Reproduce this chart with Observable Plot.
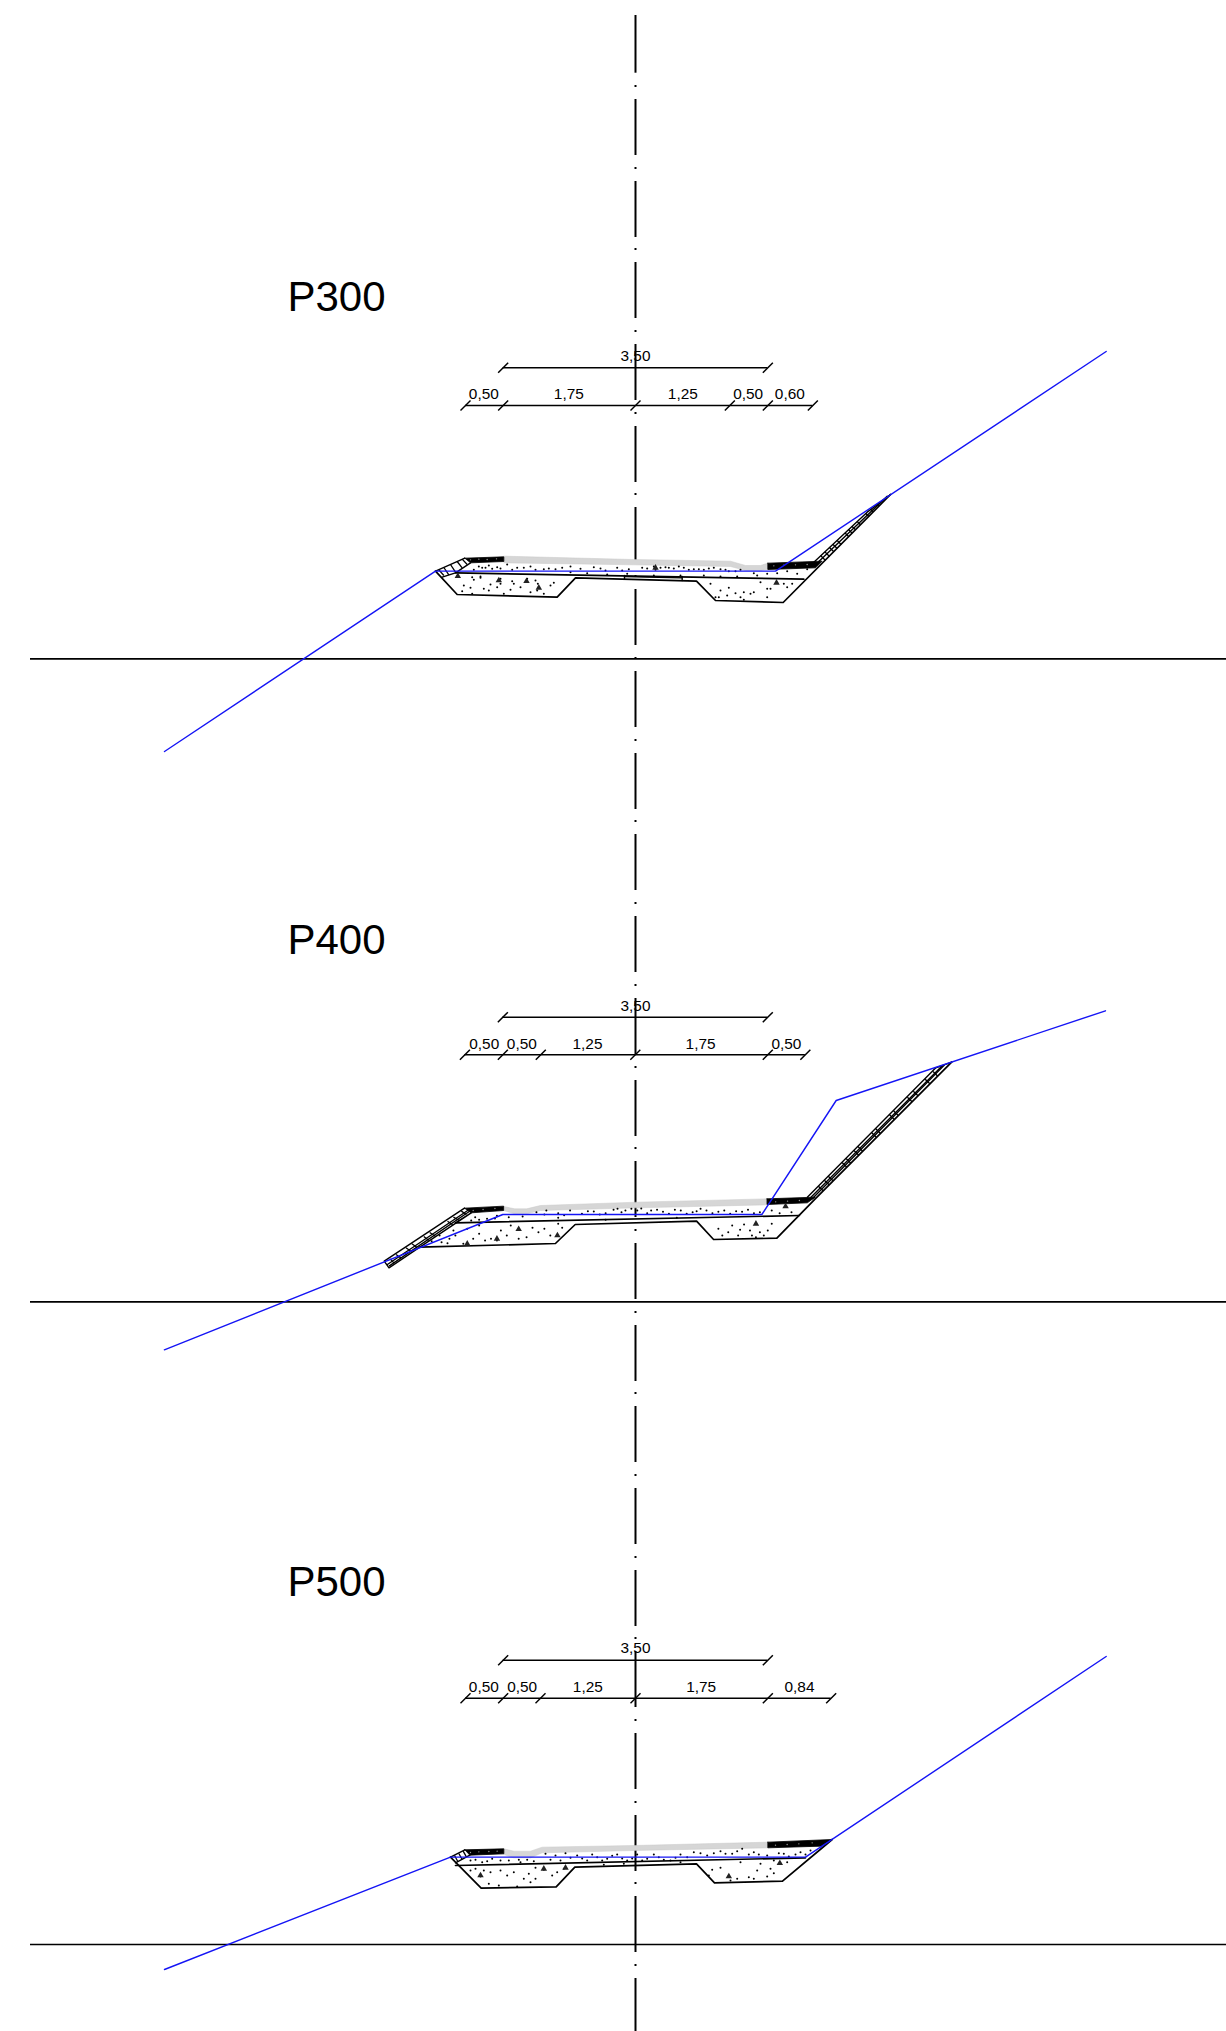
<!DOCTYPE html>
<html><head><meta charset="utf-8">
<script src="https://cdn.jsdelivr.net/npm/d3@7"></script>
<script src="https://cdn.jsdelivr.net/npm/@observablehq/plot@0.6"></script>
<style>html,body{margin:0;padding:0;background:#fff}svg{display:block}</style>
</head><body><div id="chart"></div>
<script>
// ---- centre line and reference levels (sheet units)
const axisDashStarts=[99,181,262,344,426,507,589,671,753,834,916,998,1080,1161,1243,1325,1406,1488,1570,1651,1733,1815,1896,1978];
const axisX=635;
const axisFirst=[15,72.7];
const axisDotYs=[86,168,249,331,413,494,576,658,740,821,903,985,1067,1148,1230,1312,1393,1475,1557,1638,1720,1802,1883,1965];
const datumYs=[658.3,1301.3,1944];
const titles=["P300","P400","P500"];
const titleYs=[310,953,1595];

// ---- section P300
const p300Origin=[420,330,3];
const p300Dim={top:112,mid:225,topSpan:[248,1042],midSpan:[135,1177]};
const p300MidTicks=[135,248,645,928,1042,1177];
const p300MidLabels=["0,50","1,75","1,25","0,50","0,60"];
const p300MidLabelX=[190,445,787,983,1108];
const p300LabelY=[90,205];
const p300Black=[[[133,683],[250,679],[250,693],[150,697]],[[1042,698],[1205,692],[1185,712],[1042,717]]];
const p300Gray=[[250,677],[640,687],[930,692],[975,705],[1020,705],[1042,698],[1042,716],[1020,720],[975,720],[930,708],[640,703],[250,697]];
const p300Lines=[
 [[105,727],[1150,746]],
 [[45,722],[110,792],[410,800],[465,742],[828,752],[885,810],[1088,816],[1410,492]],
 [[45,722],[133,683]],[[65,740],[105,727],[150,697]],
 [[1180,695],[1340,545],[1410,492]],[[1195,693],[1400,497]],
 [[612,735],[612,746]],[[785,738],[785,750]],[[612,738],[785,742]]];
const p300Ticks=[[1215,690,1201,676],[1227,678,1213,664],[1240,664,1226,650],[1250,654,1237,641],[1262,642,1250,630],[1285,619,1273,607],[1295,608,1284,597],[1305,598,1294,587],[1320,583,1310,573],[1345,558,1336,549],[1358,544,1350,536],[1375,527,1369,521],[70,711,85,733],[90,702,105,725],[110,693,125,712],[125,686,140,702],[55,718,70,735]];
const p300Blue=[[-768,1263],[45,722],[110,722],[1065,722],[2057,63]];
const p300Specks=[[175,708],[195,712],[230,710],[275,718],[205,705],[260,702],[310,712],[345,718],[385,714],[425,712],[450,708],[480,715],[520,710],[555,720],[590,712],[625,716],[665,712],[700,708],[705,718],[735,710],[760,714],[790,712],[820,716],[850,718],[880,712],[900,716],[925,722],[960,718],[1000,728],[1040,730],[1070,728],[1100,722],[1130,730],[1160,716],[160,718],[1010,735],[450,725],[500,728],[560,732],[620,730],[700,735],[780,735],[850,735],[900,738],[950,738],[110,737],[155,740],[180,742],[275,752],[345,750],[400,757],[130,765],[150,772],[190,775],[230,770],[270,778],[300,770],[390,765],[125,782],[250,790],[330,785],[370,790],[210,762],[280,760],[870,760],[900,780],[925,772],[885,800],[920,795],[960,800],[970,785],[1000,785],[1040,775],[1070,757],[1100,770],[1115,760],[1040,800],[970,808],
 [185,712],[215,715],[240,714],[290,712],[330,708],[370,716],[405,716],[540,714],[605,720],[680,714],[720,712],[745,712],[775,708],[805,718],[835,716],[865,714],[915,718],[945,722],[180,738],[240,745],[240,760],[320,745],[352,760],[160,748],[205,780],[155,790],[350,780],[895,800],[945,788],[990,790],[1020,755],[1090,760],[1050,775]];
const p300Stones=[[112,737],[235,750],[355,772],[318,752],[1068,757],[705,712]];
const p300White=[[150,688],[175,686],[200,687],[228,685],[1060,706],[1090,704],[1125,703],[1160,702]];

// ---- section P400 (crop reading: x/2.529, y/3)
const p400Origin=[360,990,2.529];
const p400Dim={top:80,mid:193,topSpan:[360,1030],midSpan:[264,1125]};
const p400MidTicks=[264,360,456,695,1030,1125];
const p400MidLabels=["0,50","0,50","1,25","1,75","0,50"];
const p400MidLabelX=[313,408,574,860,1077];
const p400LabelY=[60,175];
const p400Black=[[[263,653],[362,647],[362,660],[280,667]],[[1028,625],[1150,620],[1130,637],[1028,642]]];
const p400Gray=[[362,648],[390,655],[420,655],[455,645],[700,635],[1028,625],[1028,643],[700,652],[455,660],[420,670],[390,670],[362,660]];
const p400Lines=[
 [[240,697],[1110,675]],
 [[150,770],[493,759],[543,702],[850,692],[893,747],[1053,743],[1150,625],[1495,215]],
 [[1130,620],[1455,232],[1495,215]],[[1138,622],[1470,227]],[[1143,624],[1476,224]],
 [[240,697],[280,667],[150,770],[72,832],[60,812],[263,653]],[[68,822],[271,660]],[[73,826],[275,663]]];
const p400Ticks=[[1170,601,1158,587],[1185,583,1173,569],[1195,571,1183,557],[1230,530,1218,516],[1240,518,1228,504],[1260,494,1248,480],[1270,482,1258,468],[1305,441,1293,427],[1315,429,1303,415],[1350,387,1338,373],[1360,375,1348,361],[1395,334,1383,320],[1410,316,1398,302],[1440,280,1428,266],[1460,257,1448,243],[255,662,268,672],[235,680,250,690],[220,692,233,703],[175,726,190,738],[160,738,173,750],[130,760,143,771],[115,772,128,783],[90,792,103,803],[75,805,85,818]];
const p400Blue=[[-496,1078],[360,672],[1015,672],[1203,330],[1884,61]];
const p400Specks=[[290,680],[320,685],[345,676],[375,680],[410,678],[445,665],[470,660],[500,668],[530,660],[560,670],[590,663],[620,668],[650,655],[660,665],[700,660],[725,668],[750,658],[780,670],[810,660],[840,665],[860,655],[890,668],[920,660],[950,662],[980,658],[1010,665],[1040,660],[1075,648],[1090,665],[280,690],[500,682],[620,688],[800,682],[200,735],[235,720],[270,715],[300,730],[330,745],[355,720],[380,705],[420,740],[450,725],[480,735],[510,712],[180,752],[220,758],[260,760],[345,750],[400,745],[300,705],[905,715],[930,725],[955,735],[985,720],[1010,725],[1030,720],[970,702],[1040,700],[940,705],[1000,740],[500,700],
 [640,658],[670,660],[685,655],[710,654],[735,660],[765,664],[795,658],[825,670],[850,662],[875,660],[905,664],[935,670],[965,664],[995,668],[1060,668],[300,688],[340,684],[465,672],[515,674],[575,662],[605,672],[225,745],[285,745],[315,750],[370,735],[435,712],[465,715],[240,735],[205,755],[915,735],[990,735],[960,718],[1020,735]];
const p400Stones=[[400,716],[270,760],[498,735],[1000,700],[1075,648],[345,745]];
const p400White=[[285,660],[310,657],[340,654],[1050,634],[1080,632],[1110,630]];

// ---- section P500
const p500Origin=[420,1630,3];
const p500Dim={top:89,mid:203,topSpan:[248,1042],midSpan:[135,1232]};
const p500MidTicks=[135,248,360,645,1042,1232];
const p500MidLabels=["0,50","0,50","1,25","1,75","0,84"];
const p500MidLabelX=[190,305,502,842,1137];
const p500LabelY=[68,184];
const p500Black=[[[133,658],[250,655],[250,670],[148,674]],[[1042,635],[1235,627],[1200,647],[1042,652]]];
const p500Gray=[[250,655],[280,662],[330,662],[365,650],[640,645],[1042,635],[1042,652],[640,660],[365,667],[330,682],[280,682],[250,672]];
const p500Lines=[
 [[105,705],[1155,682]],
 [[90,680],[182,773],[407,769],[463,710],[828,700],[882,757],[1086,752],[1235,627]],
 [[90,680],[133,658]],[[105,697],[148,674]]];
const p500Ticks=[[102,675,112,693],[115,669,125,687],[128,662,138,680]];
const p500Blue=[[-768,1017],[90,680],[1155,680],[2057,78]];
const p500Specks=[[150,690],[185,695],[215,685],[240,690],[295,688],[340,692],[375,670],[405,675],[435,668],[470,675],[500,690],[530,680],[560,685],[590,672],[620,690],[650,672],[680,685],[715,680],[750,690],[780,672],[820,665],[860,675],[900,662],[935,670],[965,655],[1000,665],[1040,675],[1075,668],[1105,678],[1140,665],[1170,660],[300,695],[550,703],[610,700],[780,695],[150,720],[210,725],[240,720],[345,712],[370,718],[430,715],[180,738],[280,725],[310,745],[345,745],[395,735],[235,765],[205,760],[290,768],[875,718],[900,712],[925,735],[950,745],[985,740],[1020,700],[1050,715],[1075,700],[1040,738],[960,695],[1100,695],[930,750],
 [165,688],[200,692],[265,690],[320,688],[390,688],[420,690],[450,682],[485,684],[515,672],[545,690],[575,676],[605,684],[635,684],[665,690],[700,672],[730,688],[765,682],[800,680],[840,668],[880,668],[915,670],[950,662],[985,672],[1015,672],[1060,690],[1090,670],[1125,672],[1155,672],[190,720],[260,735],[325,730],[165,715],[410,725],[330,755],[865,735],[1010,720],[1060,728],[1000,745]];
const p500Stones=[[180,735],[370,715],[925,738],[1078,698],[435,712]];
const p500White=[[150,666],[175,664],[205,663],[230,662],[1065,644],[1100,642],[1135,640],[1175,637]];

const allSections=[
 [p300Origin,p300Dim,p300MidTicks,p300MidLabels,p300MidLabelX,p300LabelY,p300Black,p300Gray,p300Lines,p300Ticks,p300Blue,p300Specks,p300Stones,p300White],
 [p400Origin,p400Dim,p400MidTicks,p400MidLabels,p400MidLabelX,p400LabelY,p400Black,p400Gray,p400Lines,p400Ticks,p400Blue,p400Specks,p400Stones,p400White],
 [p500Origin,p500Dim,p500MidTicks,p500MidLabels,p500MidLabelX,p500LabelY,p500Black,p500Gray,p500Lines,p500Ticks,p500Blue,p500Specks,p500Stones,p500White]
];
const totalLabel="3,50";
const font="Arimo, Liberation Sans, Arial, sans-serif";

function sectionMarks([o,dim,midTicks,midLabels,midLabelX,labelY,black,gray,lines,ticks,blue,specks,stones,white]){
  const X=v=>o[0]+v/o[2], Y=v=>o[1]+v/3;
  const px=d=>X(d[0]), py=d=>Y(d[1]);
  const slash=(rows)=>Plot.link(rows,{x1:d=>X(d[0])-5,y1:d=>Y(d[1])+5,x2:d=>X(d[0])+5,y2:d=>Y(d[1])-5,stroke:"#000",strokeWidth:1.5});
  const out=[];
  out.push(Plot.line(gray,{x:px,y:py,fill:"#d6d6d6",stroke:"#c8c8c8",strokeWidth:.5}));
  black.forEach(b=>out.push(Plot.line(b.concat([b[0]]),{x:px,y:py,fill:"#000",stroke:"#000",strokeWidth:.8})));
  out.push(Plot.dot(white,{x:px,y:py,r:.7,fill:"#999"}));
  lines.forEach((l,i)=>out.push(Plot.line(l,{x:px,y:py,stroke:"#000",strokeWidth:i<2?1.7:1.4})));
  out.push(Plot.link(ticks,{x1:d=>X(d[0]),y1:d=>Y(d[1]),x2:d=>X(d[2]),y2:d=>Y(d[3]),stroke:"#000",strokeWidth:1.3}));
  out.push(Plot.dot(specks,{x:px,y:py,r:1,fill:"#000"}));
  out.push(Plot.dot(stones,{x:px,y:py,r:2.4,symbol:"triangle",fill:"#222"}));
  out.push(Plot.line(blue,{x:px,y:py,stroke:"#1414f5",strokeWidth:1.4}));
  // dimensions
  out.push(Plot.ruleY([dim.top],{x1:X(dim.topSpan[0]),x2:X(dim.topSpan[1]),y:d=>Y(d),stroke:"#000",strokeWidth:1.5}));
  out.push(Plot.ruleY([dim.mid],{x1:X(dim.midSpan[0]),x2:X(dim.midSpan[1]),y:d=>Y(d),stroke:"#000",strokeWidth:1.5}));
  out.push(slash(dim.topSpan.map(x=>[x,dim.top])));
  out.push(slash(midTicks.map(x=>[x,dim.mid])));
  out.push(Plot.text(midLabels,{x:(d,i)=>X(midLabelX[i]),y:()=>Y(labelY[1]),text:d=>d,lineAnchor:"bottom",fontSize:15.4,fontFamily:font,fill:"#000"}));
  out.push(Plot.text([totalLabel],{x:()=>axisX,y:()=>Y(labelY[0]),text:d=>d,lineAnchor:"bottom",fontSize:15.4,fontFamily:font,fill:"#000"}));
  return out;
}

const chart=Plot.plot({
  width:1226,height:2031,margin:0,
  x:{domain:[0,1226],range:[0,1226],axis:null},
  y:{domain:[0,2031],range:[0,2031],axis:null},
  style:{background:"#fff"},
  marks:[
    Plot.ruleY(datumYs,{x1:30,x2:1226,stroke:"#000",strokeWidth:1.7}),
    Plot.ruleX(axisDashStarts,{x:()=>axisX,y1:d=>d,y2:d=>d+56,stroke:"#000",strokeWidth:2}),
    Plot.ruleX([axisFirst],{x:()=>axisX,y1:d=>d[0],y2:d=>d[1],stroke:"#000",strokeWidth:2}),
    Plot.ruleX(axisDotYs,{x:()=>axisX,y1:d=>d-1,y2:d=>d+1,stroke:"#000",strokeWidth:2}),
    ...allSections.flatMap(sectionMarks),
    Plot.text(titles,{x:()=>287,y:(d,i)=>titleYs[i],text:d=>d,textAnchor:"start",lineAnchor:"bottom",fontSize:42,fontFamily:font,fill:"#000"})
  ]
});
document.getElementById("chart").append(chart);
</script></body></html>
